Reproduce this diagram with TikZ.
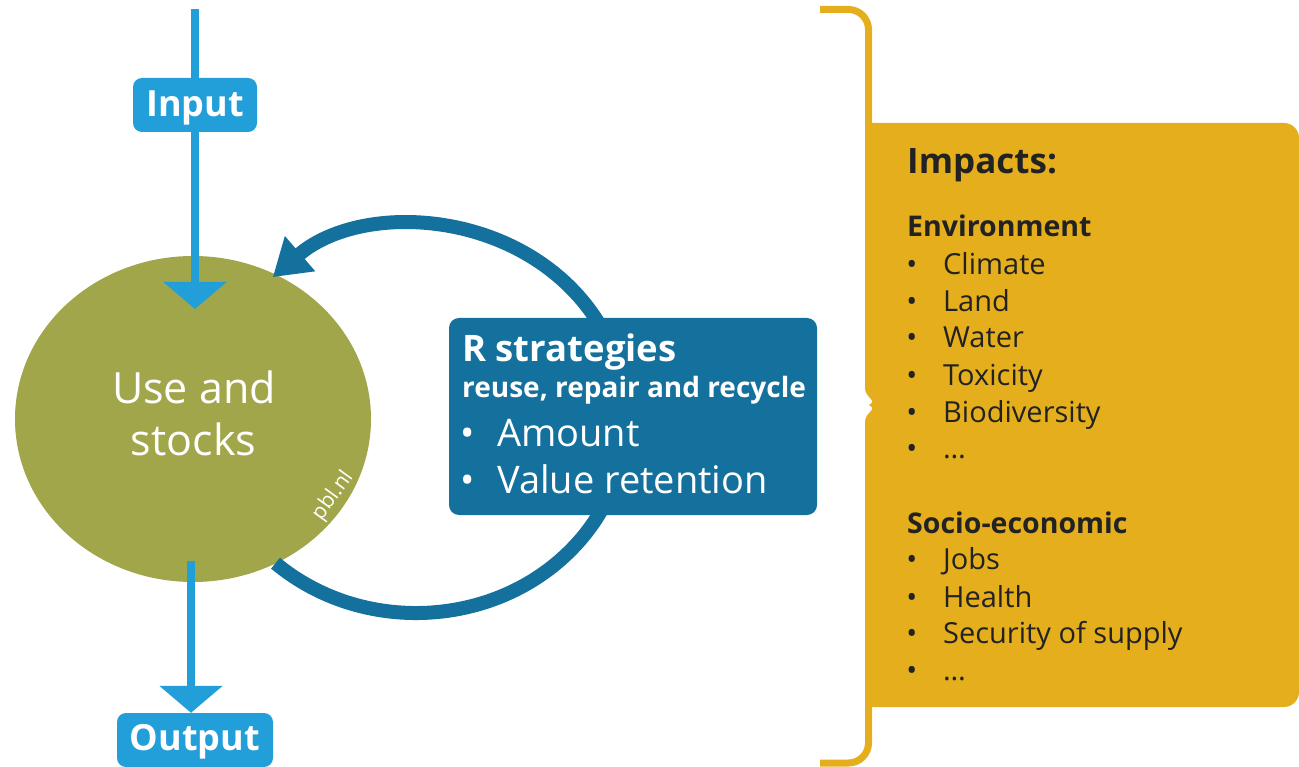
\documentclass[tikz,border=0pt]{standalone}
\usepackage{fontspec}
\setmainfont{Open Sans}
\usetikzlibrary{arrows.meta,shapes.geometric}
\definecolor{lblue}{HTML}{229ED9}
\definecolor{dblue}{HTML}{14709C}
\definecolor{olive}{HTML}{A2A64A}
\definecolor{gold}{HTML}{E4AE1D}
\definecolor{ink}{HTML}{222222}
\begin{document}
\begin{tikzpicture}[x=1pt,y=1pt,
  flowbox/.style={fill=lblue, rounded corners=9pt, text=white, inner sep=0pt,
    font=\bfseries\fontsize{36}{40}\selectfont, minimum height=54pt},
  flowline/.style={draw=lblue, line width=8pt},
  flowarrow/.style={flowline, -{Triangle[width=62pt,length=27pt]}},
  rloop/.style={draw=dblue, line width=14pt, -{Triangle[width=44pt,length=36pt]}},
  wtxt/.style={text=white, inner sep=0pt, anchor=base},
  rtxt/.style={text=white, inner sep=0pt, anchor=base west},
  itxt/.style={text=ink, inner sep=0pt, anchor=base west, font=\fontsize{29}{32}\selectfont},
  htxt/.style={text=ink, inner sep=0pt, anchor=base west, font=\bfseries\fontsize{28.5}{31}\selectfont},
  bracel/.style={draw=gold, line width=7pt}
]
\useasboundingbox (0,0) rectangle (1299,-767);

% circle
\node[ellipse, fill=olive, minimum width=356pt, minimum height=326pt, inner sep=0pt] (use) at (193,-419) {};
\node[wtxt, font=\fontsize{43}{46}\selectfont] (use1) at (194,-403) {Use and};
\node[wtxt, font=\fontsize{43}{46}\selectfont] (use2) at (193.5,-455) {stocks};
\node[text=white, inner sep=0pt, rotate=54, font=\fontsize{21}{22}\selectfont] (pbl) at (333,-496) {pbl.nl};

% loop
\draw[rloop] (275.5,-563.2) arc[start angle=228, end angle=493, x radius=210, y radius=194];

% R strategies box
\node[fill=dblue, rounded corners=10pt, minimum width=368pt, minimum height=197pt, inner sep=0pt] (rbox) at (633,-416.5) {};
\node[rtxt, font=\bfseries\fontsize{36.5}{40}\selectfont] (rtitle) at (462,-362) {R strategies};
\node[rtxt, font=\bfseries\fontsize{28}{31}\selectfont] (rsub) at (462,-398) {reuse, repair and recycle};
\node[rtxt, font=\fontsize{38}{41}\selectfont] (ramount) at (497,-446) {\llap{•\hspace{22pt}}Amount};
\node[rtxt, font=\fontsize{38}{41}\selectfont] (rvalue) at (497,-493) {\llap{•\hspace{22pt}}Value retention};

% input / output
\coordinate (intop) at (195,-9);
\coordinate (intip) at (195,-309);
\node[flowbox, minimum width=124pt, text height=30pt, text depth=6pt] (input) at (195,-105) {Input};
\draw[flowline] (intop) -- (input.north);
\draw[flowarrow] (input.south) -- (intip);

\coordinate (outstart) at (191,-561);
\node[flowbox, minimum width=156pt, text height=28pt, text depth=8pt] (output) at (195,-740) {Output};
\draw[flowarrow] (outstart) -- (output.north -| outstart);

% impacts panel
\fill[gold] (865,-123) -- (1284,-123) arc[start angle=90, end angle=0, radius=15]
  -- (1299,-692) arc[start angle=0, end angle=-90, radius=15] -- (865,-707)
  -- (865,-422) .. controls (865,-412) and (878,-410) .. (869,-405)
  .. controls (878,-400) and (865,-398) .. (865,-388) -- cycle;
\draw[bracel] (820,-9.5) -- (848.5,-9.5) arc[start angle=90, end angle=0, radius=20] -- (868.5,-124);
\draw[bracel] (868.5,-706) -- (868.5,-743) arc[start angle=0, end angle=-90, radius=20] -- (820,-763);

\node[text=ink, inner sep=0pt, anchor=base west, font=\bfseries\fontsize{35}{38}\selectfont] (imp) at (907,-174) {Impacts:};
\node[htxt] (env) at (907,-237) {Environment};
\node[itxt] (e1) at (943,-275) {\llap{•\hspace{26pt}}Climate};
\node[itxt] (e2) at (943,-312) {\llap{•\hspace{26pt}}Land};
\node[itxt] (e3) at (943,-348) {\llap{•\hspace{26pt}}Water};
\node[itxt] (e4) at (943,-385) {\llap{•\hspace{26pt}}Toxicity};
\node[itxt] (e5) at (943,-422) {\llap{•\hspace{26pt}}Biodiversity};
\node[itxt] (e6) at (943,-458) {\llap{•\hspace{26pt}}…};
\node[htxt] (soc) at (907,-533) {Socio-economic};
\node[itxt] (s1) at (943,-569) {\llap{•\hspace{26pt}}Jobs};
\node[itxt] (s2) at (943,-607) {\llap{•\hspace{26pt}}Health};
\node[itxt] (s3) at (943,-643) {\llap{•\hspace{26pt}}Security of supply};
\node[itxt] (s4) at (943,-680) {\llap{•\hspace{26pt}}…};
\end{tikzpicture}
\end{document}
